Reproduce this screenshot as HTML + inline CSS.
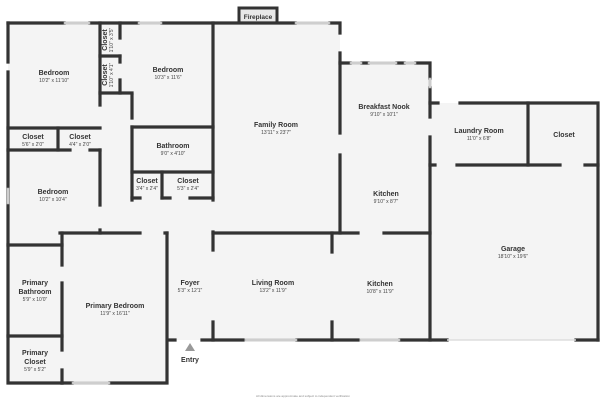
<!DOCTYPE html>
<html><head><style>
body{margin:0;background:#fff;}
svg{display:block;font-family:"Liberation Sans",sans-serif;}
.t{font-size:7px;font-weight:bold;fill:#333;text-anchor:middle}
.s{font-size:5px;fill:#444;text-anchor:middle}
</style></head><body>
<svg width="606" height="400" viewBox="0 0 606 400">
<g fill="#f4f4f4">
<rect x="8" y="23" width="159" height="362"/>
<rect x="167" y="23" width="173" height="317"/>
<rect x="340" y="63" width="90" height="277"/>
<rect x="430" y="103" width="168" height="237"/>
</g>
<rect x="239" y="8" width="38" height="15" fill="#e8e8e8" stroke="#333" stroke-width="3"/>
<text x="258" y="19" class="t" style="font-size:6.5px">Fireplace</text>
<g stroke="#333" stroke-width="3.2" fill="none" stroke-linecap="square">
<path d="M8 23H64M90 23H138M162 23H295M330 23H340V33"/>
<path d="M340 53V133M340 155V233"/>
<path d="M340 63H350M362 63H368M397 63H404M416 63H430V78M430 88V117"/>
<path d="M430 137V340"/>
<path d="M430 103H438M460 103H598V340"/>
<path d="M528 103V165"/>
<path d="M430 165H435M457 165H560M585 165H598"/>
<path d="M170 340H175M202 340H243M297 340H358M400 340H447M576 340H598"/>
<path d="M8 23V62M8 72V383H62"/>
<path d="M62 383H72M110 383H167V233"/>
<path d="M60 233H140M165 233H167"/>
<path d="M62 233V265M62 283V350M62 370V383"/>
<path d="M8 245H62"/>
<path d="M8 336H62"/>
<path d="M8 128H100"/>
<path d="M58 128V150"/>
<path d="M8 150H70M90 150H100"/>
<path d="M100 23V105M100 150V205M100 230V233"/>
<path d="M100 56H120M100 93H132"/>
<path d="M120 23V38M120 56V62M120 80V93"/>
<path d="M132 95V118M132 127V200"/>
<path d="M132 127H213"/>
<path d="M132 172H213"/>
<path d="M162 172V198"/>
<path d="M132 198H140M162 198H170M190 198H213"/>
<path d="M213 23V200M213 232V250M213 322V340"/>
<path d="M213 233H358M384 233H430"/>
<path d="M332 233V252M332 322V340"/>
</g>
<g fill="#ddd" stroke="#aaa" stroke-width="0.6">
<rect x="64" y="22" width="26" height="2"/><rect x="138" y="22" width="24" height="2"/><rect x="295" y="22" width="35" height="2"/>
<rect x="350" y="62" width="12" height="2"/><rect x="368" y="62" width="29" height="2"/><rect x="404" y="62" width="12" height="2"/>
<rect x="429" y="78" width="2" height="10"/><rect x="7" y="188" width="2" height="16"/>
<rect x="72" y="382" width="38" height="2"/><rect x="245" y="339" width="52" height="2"/><rect x="360" y="339" width="40" height="2"/>
</g>
<path d="M447 340H576" stroke="#ddd" stroke-width="1.5"/>
<polygon points="190,343 185,351 195,351" fill="#999"/>
<text x="190" y="362" class="t">Entry</text>
<text x="54" y="75" class="t">Bedroom</text><text x="54" y="82" class="s">10'2" x 11'10"</text>
<text x="168" y="72" class="t">Bedroom</text><text x="168" y="79" class="s">10'3" x 11'6"</text>
<text x="276" y="127" class="t">Family Room</text><text x="276" y="134" class="s">13'11" x 23'7"</text>
<text x="384" y="109" class="t">Breakfast Nook</text><text x="384" y="116" class="s">9'10" x 10'1"</text>
<text x="479" y="133" class="t">Laundry Room</text><text x="479" y="140" class="s">11'0" x 6'8"</text>
<text x="564" y="137" class="t">Closet</text>
<text x="386" y="196" class="t">Kitchen</text><text x="386" y="203" class="s">9'10" x 8'7"</text>
<text x="33" y="139" class="t">Closet</text><text x="33" y="146" class="s">5'6" x 2'0"</text>
<text x="80" y="139" class="t">Closet</text><text x="80" y="146" class="s">4'4" x 2'0"</text>
<text x="173" y="148" class="t">Bathroom</text><text x="173" y="155" class="s">9'0" x 4'10"</text>
<text x="147" y="183" class="t">Closet</text><text x="147" y="190" class="s">3'4" x 2'4"</text>
<text x="188" y="183" class="t">Closet</text><text x="188" y="190" class="s">5'3" x 2'4"</text>
<text x="53" y="194" class="t">Bedroom</text><text x="53" y="201" class="s">10'2" x 10'4"</text>
<text x="513" y="251" class="t">Garage</text><text x="513" y="258" class="s">18'10" x 19'6"</text>
<text x="35" y="285" class="t">Primary</text><text x="35" y="294" class="t">Bathroom</text><text x="35" y="301" class="s">5'9" x 10'0"</text>
<text x="115" y="308" class="t">Primary Bedroom</text><text x="115" y="315" class="s">11'9" x 16'11"</text>
<text x="190" y="285" class="t">Foyer</text><text x="190" y="292" class="s">5'3" x 12'1"</text>
<text x="273" y="285" class="t">Living Room</text><text x="273" y="292" class="s">13'2" x 11'9"</text>
<text x="380" y="286" class="t">Kitchen</text><text x="380" y="293" class="s">10'8" x 11'9"</text>
<text x="35" y="355" class="t">Primary</text><text x="35" y="364" class="t">Closet</text><text x="35" y="371" class="s">5'9" x 5'2"</text>
<g transform="translate(105,40) rotate(-90)"><text x="0" y="2" class="t">Closet</text><text x="0" y="8" class="s">1'10" x 3'5"</text></g>
<g transform="translate(105,75) rotate(-90)"><text x="0" y="2" class="t">Closet</text><text x="0" y="8" class="s">1'10" x 4'1"</text></g>
<text x="303" y="397" style="font-size:3px;fill:#888;text-anchor:middle">All dimensions are approximate and subject to independent verification</text>
</svg>
</body></html>
